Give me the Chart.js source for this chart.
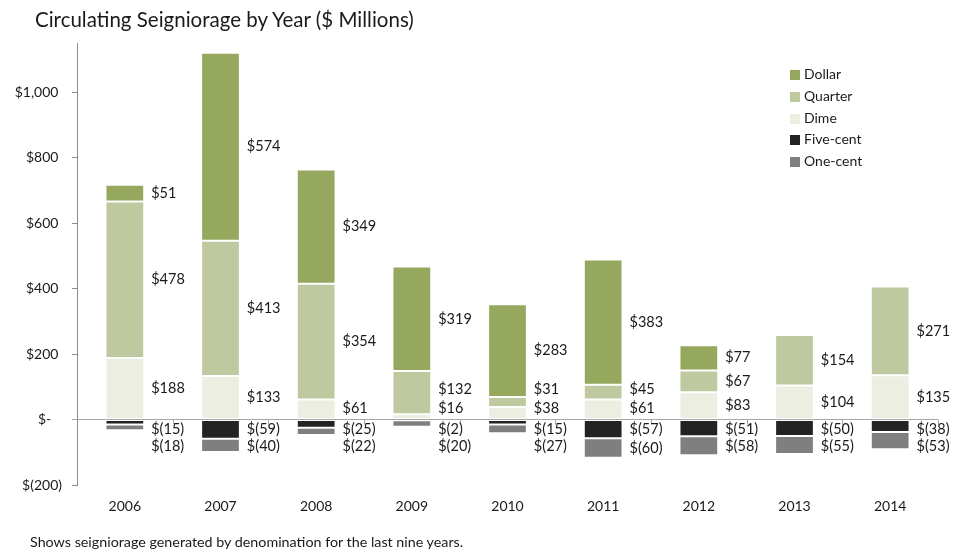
<!DOCTYPE html>
<html>
<head>
<meta charset="utf-8">
<script src="https://cdn.jsdelivr.net/npm/chart.js@4"></script>
<style>
  body { margin: 0; background: #fff; font-family: Lato, sans-serif; color: #1a1a1a; }
  #wrap { position: relative; width: 955px; height: 550px; }
  #chart { position: absolute; left: 0; top: 0; }
  #title { position: absolute; left: 35px; top: 7px; font-size: 20.5px; line-height: 24px; white-space: nowrap; }
  #note { position: absolute; left: 30px; top: 533px; font-size: 14.3px; line-height: 17px; white-space: nowrap; }
  #legend { position: absolute; left: 790px; top: 63px; font-size: 14px; }
  #legend div { height: 21.75px; line-height: 21.75px; white-space: nowrap; }
  #legend span { display: inline-block; width: 10px; height: 10px; margin-right: 4px; vertical-align: -1px; }
</style>
</head>
<body>
<div id="wrap">
  <canvas id="chart" width="955" height="550"></canvas>
  <div id="title">Circulating Seigniorage by Year ($ Millions)</div>
  <div id="legend"></div>
  <div id="note">Shows seigniorage generated by denomination for the last nine years.</div>
</div>
<script>
const years = ['2006', '2007', '2008', '2009', '2010', '2011', '2012', '2013', '2014'];
const dollar = [51, 574, 349, 319, 283, 383, 77, null, null];
const quarter = [478, 413, 354, 132, 31, 45, 67, 154, 271];
const dime = [188, 133, 61, 16, 38, 61, 83, 104, 135];
const fiveCent = [-15, -59, -25, -2, -15, -57, -51, -50, -38];
const oneCent = [-18, -40, -22, -20, -27, -60, -58, -55, -53];

const yTickValues = [-200, 0, 200, 400, 600, 800, 1000];
const yTickLabels = ['$(200)', '$-', '$200', '$400', '$600', '$800', '$1,000'];

const colors = {
    dollar: '#96a75e',
    quarter: '#bfc99f',
    dime: '#ebeee0',
    fiveCent: '#232323',
    oneCent: '#7f7f7f'
};

const FONT = 'Lato, sans-serif';

function formatValue(v) {
    return v < 0 ? '$(' + Math.abs(v) + ')' : '$' + v;
}

// legend in the same order as the picture
const legendItems = [
    ['Dollar', colors.dollar],
    ['Quarter', colors.quarter],
    ['Dime', colors.dime],
    ['Five-cent', colors.fiveCent],
    ['One-cent', colors.oneCent]
];
document.getElementById('legend').innerHTML = legendItems
    .map(it => '<div><span style="background:' + it[1] + '"></span>' + it[0] + '</div>')
    .join('');

// zero line, category ticks and value labels
const valueLabels = {
    id: 'valueLabels',
    afterDatasetsDraw(chart) {
        const ctx = chart.ctx;
        const x = chart.scales.x;
        const y = chart.scales.y;
        const zeroY = y.getPixelForValue(0);

        ctx.save();
        ctx.strokeStyle = '#a6a6a6';
        ctx.lineWidth = 1;
        ctx.beginPath();
        ctx.moveTo(x.left - 5, zeroY);
        ctx.lineTo(x.right, zeroY);
        for (let i = 1; i <= years.length; i++) {
            const bx = Math.round(x.left + (x.right - x.left) * i / years.length) + 0.5;
            ctx.moveTo(bx, zeroY);
            ctx.lineTo(bx, zeroY + 5);
        }
        ctx.stroke();

        ctx.fillStyle = '#1a1a1a';
        ctx.font = '14.5px ' + FONT;
        ctx.textAlign = 'left';
        ctx.textBaseline = 'middle';

        years.forEach((yr, i) => {
            let prev = null;
            [0, 1, 2].forEach(d => {
                const v = chart.data.datasets[d].data[i];
                if (v == null) return;
                const el = chart.getDatasetMeta(d).data[i];
                const c = (el.y + el.base) / 2;
                const ly = prev === null ? Math.min(c, zeroY - 11) : Math.min(c, prev - 19);
                ctx.fillText(formatValue(v), el.x + el.width / 2 + 7, ly);
                prev = ly;
            });
            prev = null;
            [3, 4].forEach(d => {
                const v = chart.data.datasets[d].data[i];
                if (v == null) return;
                const el = chart.getDatasetMeta(d).data[i];
                const c = (el.y + el.base) / 2;
                const ly = prev === null ? Math.max(c, zeroY + 10) : Math.max(c, prev + 17);
                ctx.fillText(formatValue(v), el.x + el.width / 2 + 7, ly);
                prev = ly;
            });
        });
        ctx.restore();
    }
};

function barSet(label, data, color) {
    return {
        label: label,
        data: data,
        backgroundColor: color,
        borderColor: 'rgba(255,255,255,0.6)',
        borderWidth: 1,
        borderSkipped: false,
        barPercentage: 0.405,
        categoryPercentage: 1
    };
}

new Chart(document.getElementById('chart').getContext('2d'), {
    type: 'bar',
    data: {
        labels: years,
        datasets: [
            barSet('Dime', dime, colors.dime),
            barSet('Quarter', quarter, colors.quarter),
            barSet('Dollar', dollar, colors.dollar),
            barSet('Five-cent', fiveCent, colors.fiveCent),
            barSet('One-cent', oneCent, colors.oneCent)
        ]
    },
    options: {
        responsive: false,
        animation: false,
        devicePixelRatio: 1,
        layout: { padding: { top: 43, right: 17, left: 0, bottom: 0 } },
        plugins: {
            legend: { display: false },
            tooltip: { enabled: false },
            title: { display: false }
        },
        scales: {
            x: {
                stacked: true,
                grid: { display: false, drawTicks: false },
                border: { display: false },
                ticks: { color: '#1a1a1a', font: { family: FONT, size: 14 }, padding: 13 },
                afterFit(scale) { scale.height = 65; }
            },
            y: {
                stacked: true,
                min: -200,
                max: 1150,
                afterBuildTicks(scale) {
                    scale.ticks = yTickValues.map(v => ({ value: v }));
                },
                grid: { drawOnChartArea: false, drawTicks: true, tickLength: 5, color: '#8c8c8c' },
                border: { display: true, color: '#8c8c8c' },
                ticks: {
                    color: '#1a1a1a',
                    font: { family: FONT, size: 14 },
                    padding: 10,
                    callback(value) {
                        const idx = yTickValues.indexOf(value);
                        if (idx < 0) return '';
                        // accounting style alignment
                        if (value < 0) return yTickLabels[idx];
                        if (value === 0) return yTickLabels[idx] + '   ';
                        return yTickLabels[idx] + ' ';
                    }
                },
                afterFit(scale) { scale.width = 77; }
            }
        }
    },
    plugins: [valueLabels]
});
</script>
</body>
</html>
